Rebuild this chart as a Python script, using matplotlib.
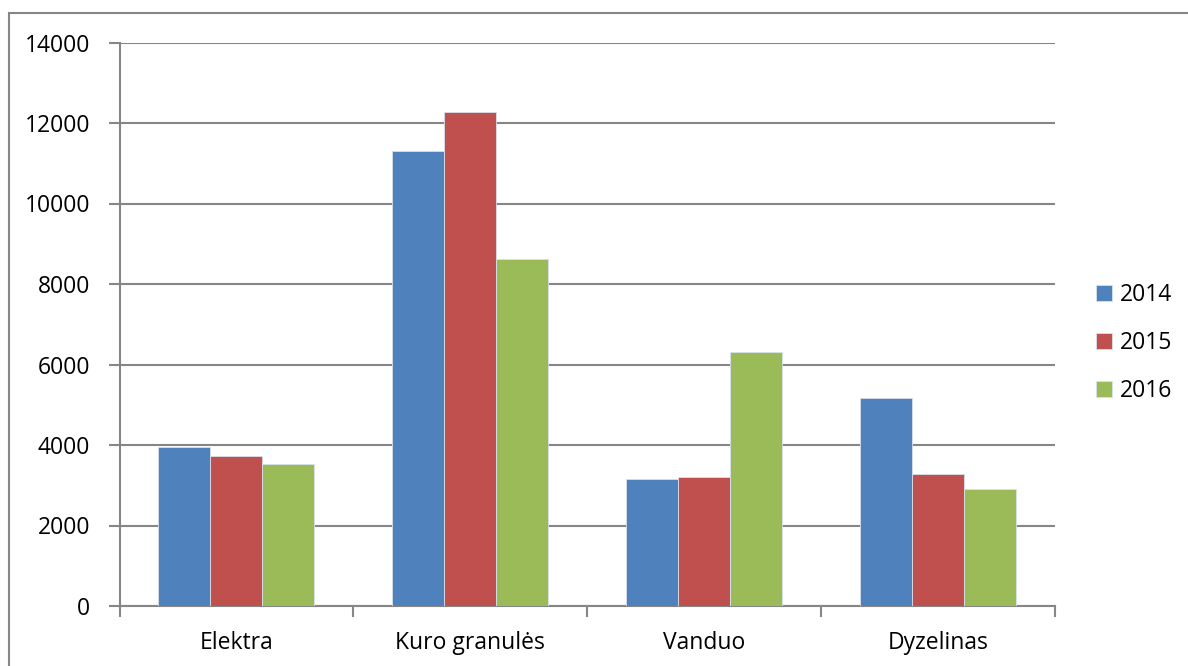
import numpy as np
import matplotlib
matplotlib.use("Agg")
import matplotlib.pyplot as plt
from matplotlib.patches import Rectangle

plt.rcParams['font.family'] = ['Open Sans', 'DejaVu Sans']

# duomenys
categories = ["Elektra", "Kuro granulės", "Vanduo", "Dyzelinas"]
years = ["2014", "2015", "2016"]
v2014 = [3940, 11300, 3150, 5160]
v2015 = [3720, 12270, 3210, 3270]
v2016 = [3520, 8620, 6300, 2910]
colors = ["#4F81BD", "#C0504D", "#9BBB59"]

fig = plt.figure(figsize=(11.88, 6.66), dpi=100)
ax = fig.add_axes([119.5/1188, 1-606/666, (1055-119.5)/1188, (606-42.5)/666])

x = np.arange(len(categories)) + 0.5
w = 0.2225
for i, (vals, col, lab) in enumerate(zip([v2014, v2015, v2016], colors, years)):
    ax.bar(x + (i-1)*w, vals, width=w, color=col, edgecolor="#d8e0ec", linewidth=0.6,
           label=lab, zorder=3)

grid_c = "#868686"
fs = 16.5
ax.set_ylim(0, 14000)
ax.set_xlim(0, 4)
ax.set_yticks(np.arange(0, 14001, 2000))
ax.yaxis.grid(True, color=grid_c, linewidth=1.5, zorder=0)
ax.set_axisbelow(True)
ax.tick_params(axis='y', length=8, width=1.5, color=grid_c, pad=13, labelsize=fs)

ax.set_xticks(x)
ax.set_xticklabels(categories)
ax.set_xticks(np.arange(0, 5), minor=True)
ax.tick_params(axis='x', which='major', length=0, pad=18, labelsize=fs)
ax.tick_params(axis='x', which='minor', length=8, width=1.5, color=grid_c)

for s in ["top", "right"]:
    ax.spines[s].set_visible(False)
for s in ["left", "bottom"]:
    ax.spines[s].set_color(grid_c)
    ax.spines[s].set_linewidth(1.5)

leg = ax.legend(loc="center left", bbox_to_anchor=(1.022, 0.466), frameon=False,
                fontsize=fs, handlelength=0.7, handleheight=0.7, handletextpad=0.35,
                labelspacing=1.05)

# rėmelis
fig.patches.append(Rectangle((9/1188, -0.1), 1.2, 1-13/666+0.1, transform=fig.transFigure,
                             fill=False, edgecolor=grid_c, linewidth=1.5))

fig.savefig("out.png", dpi=100)
